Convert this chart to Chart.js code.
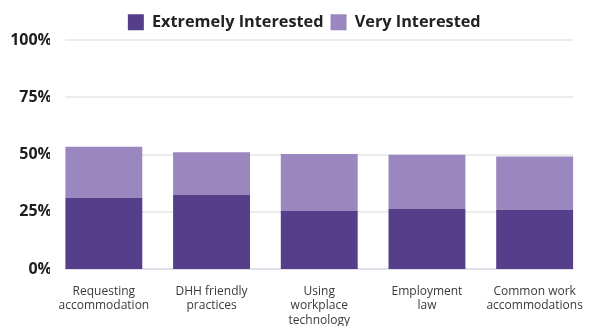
<!DOCTYPE html>
<html>
<head>
<meta charset="utf-8">
<script src="https://cdn.jsdelivr.net/npm/chart.js@4/dist/chart.umd.min.js"></script>
<style>
  html, body { margin: 0; padding: 0; background: #ffffff; }
  #wrap { width: 592px; height: 326px; position: relative; }
</style>
</head>
<body>
<div id="wrap"><canvas id="c"></canvas></div>
<script>
const categories = [
  ["Requesting", "accommodation"],
  ["DHH friendly", "practices"],
  ["Using", "workplace", "technology"],
  ["Employment", "law"],
  ["Common work", "accommodations"]
];
const seriesNames = ["Extremely Interested", "Very Interested"];
const extremelyInterested = [31.1, 32.5, 25.4, 26.3, 25.9];
const veryInterested = [22.4, 18.6, 24.9, 23.7, 23.3];
const yTicks = [0, 25, 50, 75, 100];

const gridPlugin = {
  id: 'customGrid',
  afterLayout(chart) {
    if (chart.legend) {
      chart.legend.left += 10;
      chart.legend.right += 10;
    }
  },
  beforeDatasetsDraw(chart) {
    const ctx = chart.ctx;
    const y = chart.scales.y;
    const meta0 = chart.getDatasetMeta(0).data;
    if (!meta0.length) return;
    const first = meta0[0], last = meta0[meta0.length - 1];
    const x0 = first.x - first.width / 2;
    const x1 = last.x + last.width / 2;
    ctx.save();
    ctx.lineWidth = 2;
    yTicks.forEach(v => {
      const py = Math.round(y.getPixelForValue(v));
      ctx.strokeStyle = v === 0 ? '#e2dfe8' : '#ececec';
      ctx.beginPath();
      ctx.moveTo(x0, py);
      ctx.lineTo(x1, py);
      ctx.stroke();
    });
    ctx.restore();
  }
};

new Chart(document.getElementById('c'), {
  type: 'bar',
  data: {
    labels: categories,
    datasets: [
      { label: seriesNames[0], data: extremelyInterested, backgroundColor: '#553e8a' },
      { label: seriesNames[1], data: veryInterested, backgroundColor: '#9b87bf' }
    ]
  },
  options: {
    responsive: true,
    maintainAspectRatio: false,
    animation: false,
    layout: { padding: { top: 7, right: 3.5, bottom: 0, left: 0 } },
    datasets: { bar: { barPercentage: 0.714, categoryPercentage: 1.0 } },
    plugins: {
      legend: {
        position: 'top',
        labels: {
          boxWidth: 16,
          boxHeight: 16,
          padding: 7,
          color: '#222',
          font: { family: 'Open Sans', size: 16.3, weight: 'bold' }
        }
      },
      tooltip: { enabled: false }
    },
    scales: {
      x: {
        stacked: true,
        grid: { display: false },
        border: { display: false },
        ticks: {
          autoSkip: false,
          maxRotation: 0,
          padding: 8,
          color: '#3a3a3a',
          font: { family: 'Open Sans', size: 12, lineHeight: 1.17 }
        },
        afterFit(scale) { scale.height = 57; }
      },
      y: {
        stacked: true,
        min: 0,
        max: 100,
        grid: { display: false },
        border: { display: false },
        ticks: {
          stepSize: 25,
          padding: -10,
          color: '#1e1e1e',
          font: { family: 'Open Sans', size: 16, weight: 'bold' },
          callback: v => v + '%'
        },
        afterFit(scale) { scale.width = 50; }
      }
    }
  },
  plugins: [gridPlugin]
});
</script>
</body>
</html>
